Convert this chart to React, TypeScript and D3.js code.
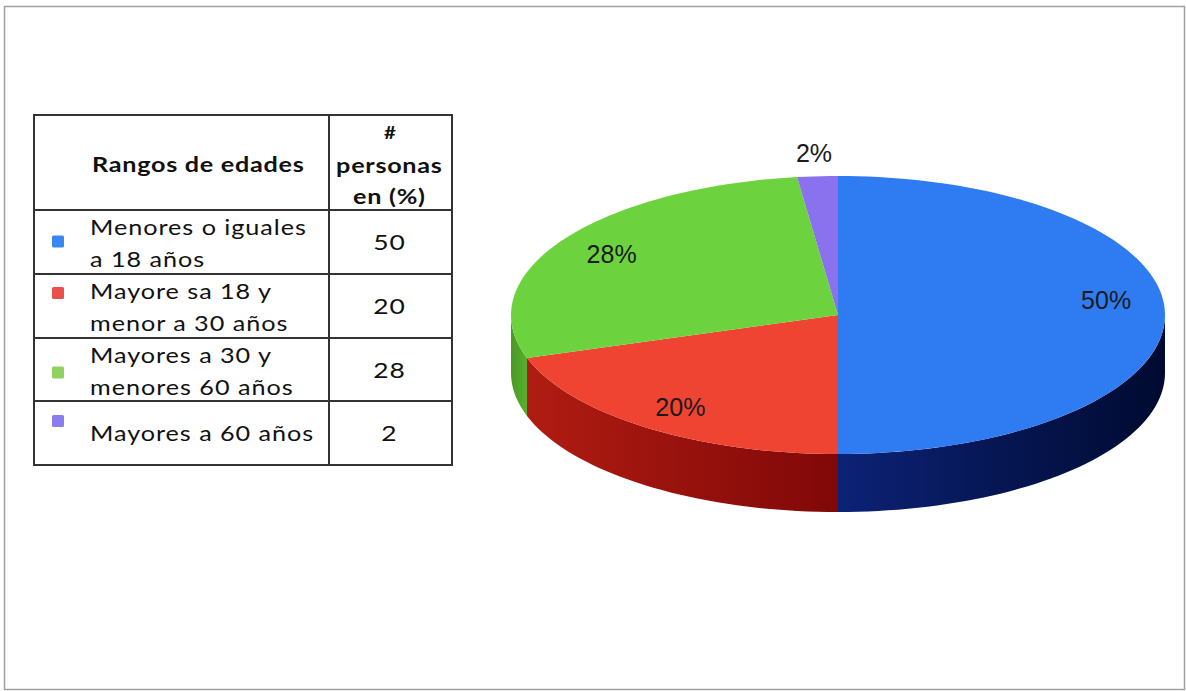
import React from "react";
import * as d3 from "d3";

const categories = [
  ["Menores o iguales", "a 18 años"],
  ["Mayore sa 18 y", "menor a 30 años"],
  ["Mayores a 30 y", "menores 60 años"],
  ["Mayores a 60 años"],
];
const values = [50, 20, 28, 2];
const topColors = ["#2f7cf2", "#ee4431", "#6cd33e", "#8a72ee"];
const sideColorsA = ["#0c2276", "#b01c12", "#58b02e", "#6a52c8"];
const sideColorsB = ["#000a30", "#800808", "#4a9a26", "#5040a8"];
const legendColors = ["#3a86f5", "#ea514b", "#8fd260", "#8a7df0"];

// styling: vertical offset of each legend square within its row (from row top)
const squareCenterDy = [31.5, 19, 34.5, 20];
// styling: small nudge of the pie labels
const labelDy = [-15, 0, 0, 0];

const W = 1186;
const H = 691;
const FONT = "Lato, 'Open Sans', sans-serif";
const SX = 1.2;

function T(props: {
  x: number;
  y: number;
  size: number;
  bold?: boolean;
  anchor?: "start" | "middle" | "end";
  ls?: number;
  children: React.ReactNode;
}) {
  const { x, y, size, bold, anchor = "start", ls = 0, children } = props;
  const dx = anchor === "middle" ? (ls * SX) / 2 : 0;
  return (
    <text
      transform={`translate(${x + dx},${y}) scale(${SX},1)`}
      fontFamily={FONT}
      fontSize={size}
      fontWeight={bold ? "bold" : "normal"}
      textAnchor={anchor}
      letterSpacing={ls}
      fill="#111"
    >
      {children}
    </text>
  );
}

export default function App() {
  const cx = 838, cy = 315, rx = 327, ry = 139, depth = 58;
  const pie = d3.pie<number>().sort(null).value((d) => d).startAngle(0).endAngle(2 * Math.PI);
  const arcs = pie(values);
  const px = (a: number) => cx + rx * Math.sin(a);
  const py = (a: number) => cy - ry * Math.cos(a);

  const topPath = (a0: number, a1: number) => {
    const n = Math.max(2, Math.ceil(((a1 - a0) / (2 * Math.PI)) * 200));
    const pts = d3.range(n + 1).map((i) => a0 + ((a1 - a0) * i) / n);
    return `M${cx},${cy}` + pts.map((a) => `L${px(a)},${py(a)}`).join("") + "Z";
  };
  const sidePath = (a0: number, a1: number) => {
    const s = Math.max(a0, Math.PI / 2);
    const e = Math.min(a1, (3 * Math.PI) / 2);
    if (e <= s) return null;
    const n = Math.max(2, Math.ceil(((e - s) / (2 * Math.PI)) * 200));
    const pts = d3.range(n + 1).map((i) => s + ((e - s) * i) / n);
    const top = pts.map((a, i) => `${i ? "L" : "M"}${px(a)},${py(a)}`).join("");
    const bot = pts
      .slice()
      .reverse()
      .map((a) => `L${px(a)},${py(a) + depth}`)
      .join("");
    return top + bot + "Z";
  };

  // table geometry
  const tL = 34, tR = 452, tT = 115, colX = 329;
  const rowY = [210, 274, 338, 401, 465];

  return (
    <svg
      width={W}
      height={H}
      style={{ position: "absolute", left: 0, top: 0, background: "#fff" }}
    >
      <defs>
        {arcs.map((d, i) => (
          <linearGradient key={i} id={`sg${i}`} x1="0" x2="1" y1="0" y2="0">
            <stop offset="0%" stopColor={i === 2 ? sideColorsB[i] : sideColorsA[i]} />
            <stop offset="100%" stopColor={i === 2 ? sideColorsA[i] : sideColorsB[i]} />
          </linearGradient>
        ))}
      </defs>
      <rect x={4.5} y={6.5} width={1180} height={683} fill="#fff" stroke="#a0a0a0" strokeWidth={1.5} />

      {/* table */}
      <g>
        <rect x={tL} y={tT} width={tR - tL} height={rowY[4] - tT} fill="none" stroke="#333" strokeWidth={2} />
        <line x1={colX} x2={colX} y1={tT} y2={rowY[4]} stroke="#333" strokeWidth={2} />
        {rowY.slice(0, 4).map((y, i) => (
          <line key={i} x1={tL} x2={tR} y1={y} y2={y} stroke="#333" strokeWidth={2} />
        ))}
        <T x={92} y={172} size={21} bold ls={0.6}>Rangos de edades</T>
        <T x={390} y={139} size={17} bold anchor="middle">#</T>
        <T x={389} y={173} size={21} bold anchor="middle" ls={0.6}>personas</T>
        <T x={389} y={204} size={21} bold anchor="middle" ls={0.6}>en (%)</T>
        {categories.map((lines, i) => {
          const y0 = rowY[i], y1 = rowY[i + 1];
          const mid = (y0 + y1) / 2;
          const sq = y0 + squareCenterDy[i];
          return (
            <g key={i}>
              <rect x={52} y={sq - 6} width={12} height={12} rx={1.5} fill={legendColors[i]} />
              {lines.map((t, j) => (
                <T key={j} x={90} y={lines.length > 1 ? y0 + 25 + j * 32 : y0 + 40} size={21} ls={0.8}>
                  {t}
                </T>
              ))}
              <T x={389} y={mid + 8} size={22} anchor="middle" ls={0.8}>
                {values[i]}
              </T>
            </g>
          );
        })}
      </g>

      {/* 3D pie */}
      <g>
        {arcs.map((d, i) => {
          const p = sidePath(d.startAngle, d.endAngle);
          return p ? <path key={`s${i}`} d={p} fill={`url(#sg${i})`} /> : null;
        })}
        {arcs.map((d, i) => (
          <path key={`t${i}`} d={topPath(d.startAngle, d.endAngle)} fill={topColors[i]} />
        ))}
        {arcs.map((d, i) => {
          const a = (d.startAngle + d.endAngle) / 2;
          const share = d.data / d3.sum(values);
          const f = share < 0.05 ? 1.17 : 0.82;
          const x = cx + rx * f * Math.sin(a);
          const y = cy - ry * f * Math.cos(a) + labelDy[i];
          return (
            <text
              key={`l${i}`}
              x={x}
              y={y + 9}
              textAnchor="middle"
              fontFamily="'Liberation Sans', Arial, sans-serif"
              fontSize={25}
              fill="#1a1a1a"
            >
              {`${d.data}%`}
            </text>
          );
        })}
      </g>
    </svg>
  );
}
